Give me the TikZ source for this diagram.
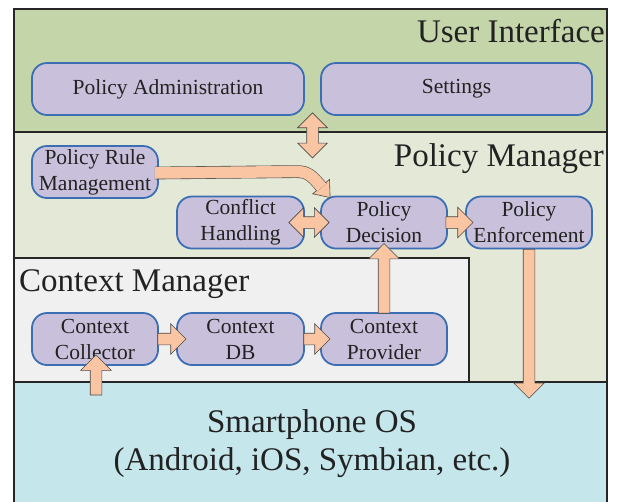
\documentclass[tikz,border=0pt]{standalone}
\usepackage{fontspec}
\setmainfont{Liberation Serif}
\usetikzlibrary{shapes.arrows,calc}
\definecolor{uigreen}{HTML}{C3D5A9}
\definecolor{pmbg}{HTML}{E3E8D7}
\definecolor{cmbg}{HTML}{F0F0F0}
\definecolor{osbg}{HTML}{C5E6EB}
\definecolor{boxfill}{HTML}{C9C1DB}
\definecolor{boxline}{HTML}{3C6EB4}
\definecolor{arrfill}{HTML}{FAC5A2}
\definecolor{arrline}{HTML}{4A4A4A}
\definecolor{txt}{HTML}{222222}
\definecolor{framec}{HTML}{262626}
\newcommand\fatar[3]{\path let \p1=#2, \p2=#3, \n1={veclen(\x2-\x1,\y2-\y1)} in (\p1) -- (\p2) node[#1, midway, minimum height=\n1]{};}
\begin{document}
\begin{tikzpicture}[x=1pt,y=-1pt,
 comp/.style={draw=boxline, fill=boxfill, line width=1.8pt, rounded corners=15pt, minimum width=126pt, minimum height=52pt, inner sep=0pt, align=center, text=txt, font=\fontsize{21.5}{26}\selectfont},
 sect/.style={draw=framec, line width=1.8pt},
 title/.style={text=txt, font=\fontsize{33}{38}\selectfont, inner sep=0pt},
 fat/.style={single arrow, draw=arrline, fill=arrfill, line width=0.6pt, inner sep=0pt, text height=0pt, text depth=0pt, inner ysep=5.5pt, single arrow head extend=9.5pt, single arrow tip angle=90, sloped, allow upside down},
 fatdbl/.style={double arrow, draw=arrline, fill=arrfill, line width=0.6pt, inner sep=0pt, text height=0pt, text depth=0pt, inner ysep=5.5pt, double arrow head extend=9pt, double arrow tip angle=90, sloped, allow upside down}
]
\useasboundingbox (0,0) rectangle (617,501);
\fill[white] (0,0) rectangle (617,501);
% sections
\draw[sect, fill=uigreen] (14,9) rectangle (607,132);
\draw[sect, fill=pmbg] (14,132) rectangle (607,382);
\draw[sect, fill=cmbg] (14,258) rectangle (469,382);
\draw[sect, fill=osbg] (14,382) rectangle (607,512);
% titles
\node[title, anchor=base east] (uit) at (605,42) {User Interface};
\node[title, anchor=base east] (pmt) at (604,166) {Policy Manager};
\node[title, anchor=base west] (cmt) at (19,291) {Context Manager};
\node[title, align=center, font=\fontsize{33}{38}\selectfont] (os) at (312,444) {Smartphone OS\\(Android, iOS, Symbian, etc.)};
% components
\node[comp, minimum width=272pt] (pa) at (168,89) {Policy Administration};
\node[comp, minimum width=271pt] (set) at (456.5,89) {Settings};
\node[comp] (prm) at (95,172) {Policy Rule\\Management};
\node[comp, minimum width=127pt] (con) at (240.5,222.5) {Conflict\\Handling};
\node[comp] (dec) at (384,222.5) {Policy\\Decision};
\node[comp] (enf) at (529,222.5) {Policy\\Enforcement};
\node[comp] (col) at (95,339) {Context\\Collector};
\node[comp, minimum width=127pt] (db) at (240.5,339) {Context\\DB};
\node[comp] (prov) at (384,339) {Context\\Provider};
% arrows
\fatar{fatdbl}{($(pa.south east)!0.5!(set.south west)+(0,-3)$)}{($(pa.south east)!0.5!(set.south west)+(0,42)$)}
\fatar{fatdbl}{($(con.east)+(-16,0)$)}{($(dec.west)+(9,0)$)}
\fatar{fat}{($(dec.east)+(-5,0)$)}{($(enf.west)+(5,0)$)}
\fatar{fat}{($(enf.south)+(0,-3)$)}{($(enf.south)+(0,146)$)}
\fatar{fat}{($(prov.north)+(0,4)$)}{($(dec.south)+(0,-3)$)}
\fatar{fat}{($(col.east)+(-4,0)$)}{($(db.west)+(7,0)$)}
\fatar{fat}{($(db.east)+(-4,0)$)}{($(prov.west)+(7,0)$)}
\fatar{fat}{($(col.south)+(1,32)$)}{($(col.south)+(1,-8)$)}
% curved arrow from policy rule management to policy decision
\coordinate (hb) at ($(dec.north west)+(1,-9)$);
\filldraw[fill=arrfill, draw=arrline, line width=0.6pt] ($(dec.north west)+(9.4,-16.2)$) -- ($(dec.north west)+(10,2)$) -- ($(dec.north west)+(-7.4,-1.8)$) -- cycle;
\draw[arrline, line width=0.6pt, double=arrfill, double distance=11.5pt] ($(prm.east)+(-4,1)$) -- ($(dec.north west)+(-24,-24)$) .. controls ($(dec.north west)+(-13,-24)$) and ($(dec.north west)+(-9,-21)$) .. ($(hb)+(0.65,0.76)$);
\end{tikzpicture}
\end{document}
